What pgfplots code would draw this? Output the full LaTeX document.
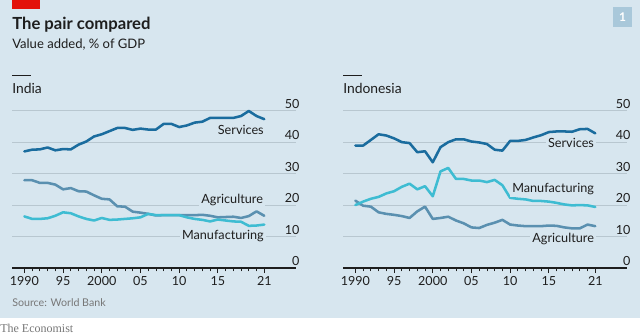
\documentclass[border=0pt]{standalone}
\usepackage{fontspec}
\setmainfont{Lato}
\usepackage{pgfplots}
\pgfplotsset{compat=1.18}
\definecolor{bg}{HTML}{D7E6EF}
\definecolor{serv}{HTML}{1A6C9E}
\definecolor{manu}{HTML}{3EBCD2}
\definecolor{agri}{HTML}{5A90B0}
\definecolor{gridc}{HTML}{B8C7D0}
\definecolor{txt}{HTML}{1E1E1E}
\definecolor{src}{HTML}{777777}
\definecolor{boxc}{HTML}{A9C8DA}
\definecolor{ecored}{HTML}{E3120B}

\pgfplotstableread{
year serv agri manu
1990 37.05 27.9 16.4
1991 37.6 27.9 15.6
1992 37.7 27.05 15.6
1993 38.3 27.05 15.8
1994 37.4 26.5 16.6
1995 37.8 25.0 17.7
1996 37.7 25.4 17.4
1997 39.2 24.4 16.4
1998 40.2 24.3 15.6
1999 41.8 23.1 15.1
2000 42.5 22.0 15.9
2001 43.5 21.8 15.3
2002 44.5 19.6 15.4
2003 44.5 19.5 15.6
2004 43.9 17.9 15.8
2005 44.3 17.6 16.1
2006 44.0 17.2 17.2
2007 44.0 16.7 16.8
2008 45.8 16.8 16.8
2009 45.8 16.8 16.8
2010 44.8 16.8 16.8
2011 45.3 16.8 16.1
2012 46.2 16.8 15.6
2013 46.5 16.9 15.3
2014 47.7 16.6 14.8
2015 47.7 16.1 15.4
2016 47.7 16.2 15.1
2017 47.7 16.3 14.8
2018 48.3 15.9 14.7
2019 49.9 16.5 13.4
2020 48.3 18.0 13.5
2021 47.3 16.6 13.8
}\india

\pgfplotstableread{
year serv agri manu
1990 38.9 21.4 20.0
1991 38.9 19.8 21.1
1992 40.7 19.5 22.0
1993 42.5 17.7 22.6
1994 42.1 17.2 23.7
1995 41.2 16.9 24.4
1996 40.0 16.5 25.8
1997 39.7 15.9 26.8
1998 36.8 18.0 25.0
1999 37.1 19.5 26.0
2000 33.6 15.6 22.8
2001 38.4 15.9 30.7
2002 40.0 16.3 31.8
2003 40.9 15.1 28.3
2004 40.9 14.2 28.3
2005 40.2 12.9 27.8
2006 39.9 12.7 27.8
2007 39.4 13.7 27.3
2008 37.6 14.4 28.0
2009 37.3 15.3 26.3
2010 40.4 13.8 22.3
2011 40.4 13.5 22.0
2012 40.7 13.3 21.8
2013 41.5 13.3 21.3
2014 42.2 13.3 21.3
2015 43.2 13.5 21.1
2016 43.4 13.4 20.7
2017 43.4 12.9 20.2
2018 43.3 12.6 19.9
2019 44.1 12.6 20.0
2020 44.2 13.8 19.9
2021 42.8 13.3 19.4
}\indo

\pgfplotsset{econ/.style={
  scale only axis, width=213pt, height=118pt,
  xmin=1988.4, xmax=2025.1, ymin=0, ymax=50,
  clip=false,
  axis x line*=bottom, axis y line*=right,
  x axis line style={draw=txt, line width=0.8pt, -},
  y axis line style={draw=none},
  xtick={1990,1995,2000,2005,2010,2015,2021},
  xticklabels={1990,95,2000,05,10,15,21},
  minor xtick={1991,1992,1993,1994,1996,1997,1998,1999,2001,2002,2003,2004,2006,2007,2008,2009,2011,2012,2013,2014,2016,2017,2018,2019,2020},
  tick align=outside,
  x tick style={draw=txt, line width=0.6pt},
  major tick length=3.8pt, minor tick length=2.6pt,
  ytick={0,10,20,30,40,50},
  y tick style={draw=none},
  ymajorgrids, major grid style={draw=gridc, line width=0.6pt},
  tick label style={font=\fontsize{9.4}{10}\selectfont, text=txt},
  /pgf/number format/assume math mode=true,
  xticklabel style={/pgf/number format/1000 sep={}, inner sep=0pt, yshift=-2.2pt, anchor=north},
  yticklabel style={anchor=south east, inner sep=0pt, xshift=-1pt, yshift=1.5pt},
  every axis plot/.append style={line width=1.9pt, line join=round, line cap=round},
}}
\newcommand{\lab}[3]{\node[anchor=east, fill=bg, inner sep=1.4pt, text=txt, font=\fontsize{9.5}{10}\selectfont] at (axis cs:#1,#2) {#3};}

\begin{document}
\begin{tikzpicture}
\useasboundingbox (0,0) rectangle (480pt,-252pt);
\begin{scope}[x=0.75pt,y=-0.75pt]
  \fill[white] (0,0) rectangle (640,336);
  \fill[bg] (0,0) rectangle (640,318);
  \fill[ecored] (12,0) rectangle (40,9);
  \fill[boxc] (613,7) rectangle (632,27);
  \node[text=white, font=\bfseries\fontsize{9}{10}\selectfont] at (622.5,17) {1};
  \node[anchor=base west, inner sep=0pt, text=txt, font=\bfseries\fontsize{12.5}{14}\selectfont] at (12,29) {The pair compared};
  \node[anchor=base west, inner sep=0pt, text=txt, font=\fontsize{9.8}{11}\selectfont] at (12,48) {Value added, \% of GDP};
  \draw[txt, line width=0.75pt] (12,75) -- (31,75);
  \draw[txt, line width=0.75pt] (343,75) -- (362,75);
  \node[anchor=base west, inner sep=0pt, text=txt, font=\fontsize{10.4}{12}\selectfont] at (12,93) {India};
  \node[anchor=base west, inner sep=0pt, text=txt, font=\fontsize{10.4}{12}\selectfont] at (343,93) {Indonesia};
  \node[anchor=base west, inner sep=0pt, text=src, font=\fontsize{8}{10}\selectfont] at (12,306) {Source: World Bank};
  \node[anchor=base west, inner sep=0pt, text=src, font=\fontsize{9}{10}\selectfont] at (0,332) {\fontspec{Liberation Serif}The Economist};
\end{scope}

\begin{axis}[econ, at={(9pt,-201pt)}, anchor=south west]
  \addplot[agri] table[x=year, y=agri] {\india};
  \addplot[manu] table[x=year, y=manu] {\india};
  \addplot[serv] table[x=year, y=serv] {\india};
  \lab{2021.2}{43.9}{Services}
  \lab{2021.1}{21.6}{Agriculture}
  \lab{2021.2}{10.2}{Manufacturing}
\end{axis}

\begin{axis}[econ, at={(257.25pt,-201pt)}, anchor=south west]
  \addplot[agri] table[x=year, y=agri] {\indo};
  \addplot[manu] table[x=year, y=manu] {\indo};
  \addplot[serv] table[x=year, y=serv] {\indo};
  \lab{2021.1}{39.6}{Services}
  \lab{2021.1}{25.1}{Manufacturing}
  \lab{2021.1}{9.1}{Agriculture}
\end{axis}
\end{tikzpicture}
\end{document}
